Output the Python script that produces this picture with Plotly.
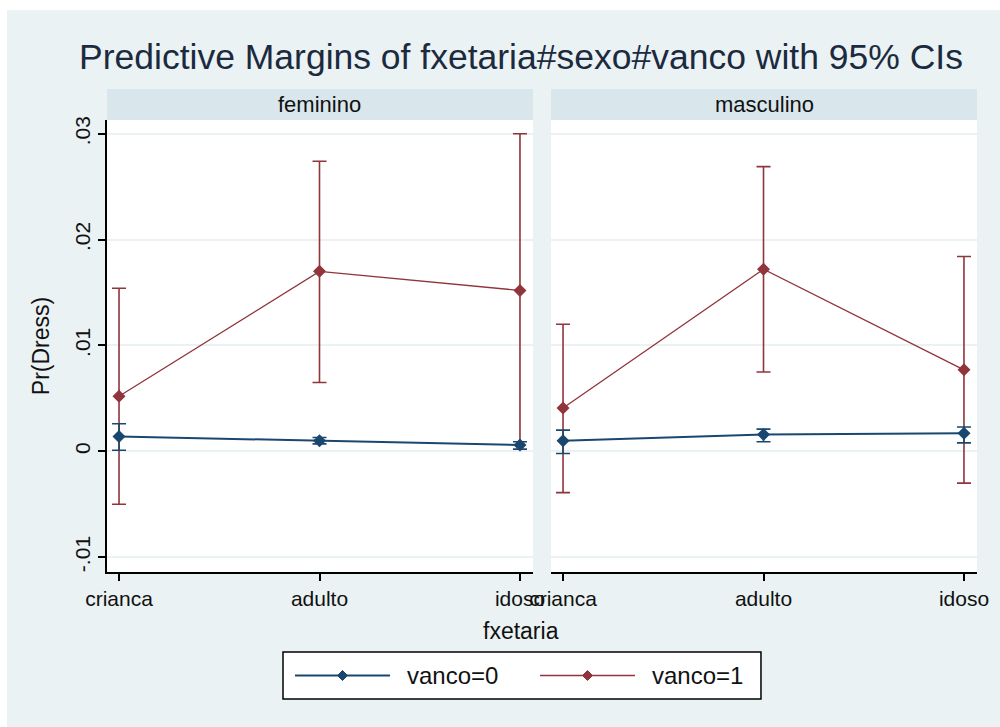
import plotly.graph_objects as go
from plotly.subplots import make_subplots

# Predictive margins by age group (fxetaria), split by sex, for vanco = 0 / 1
categories = ["crianca", "adulto", "idoso"]
panels = ["feminino", "masculino"]

fem_v0 = [0.0014, 0.0010, 0.0006]
fem_v0_lo = [0.0001, 0.0007, 0.0002]
fem_v0_hi = [0.0026, 0.0013, 0.0009]

fem_v1 = [0.0052, 0.0170, 0.0152]
fem_v1_lo = [-0.0050, 0.0065, 0.0002]
fem_v1_hi = [0.0154, 0.0274, 0.0300]

masc_v0 = [0.0010, 0.0016, 0.0017]
masc_v0_lo = [-0.0002, 0.0009, 0.0008]
masc_v0_hi = [0.0020, 0.0021, 0.0023]

masc_v1 = [0.0041, 0.0172, 0.0077]
masc_v1_lo = [-0.0039, 0.0075, -0.0030]
masc_v1_hi = [0.0120, 0.0269, 0.0184]

y_ticks = [-0.01, 0, 0.01, 0.02, 0.03]
y_ticklabels = ["-.01", "0", ".01", ".02", ".03"]

NAVY = "#1a476f"
MAROON = "#90353b"
BG = "#eaf2f3"
STRIP = "#d9e6eb"
GRID = "#eaf2f3"
TXT = "#111111"
FONT = "Arial"

fig = make_subplots(rows=1, cols=2, shared_yaxes=True, horizontal_spacing=0.0207)

xpos = list(range(len(categories)))

series = [
    (fem_v1, fem_v1_lo, fem_v1_hi, masc_v1, masc_v1_lo, masc_v1_hi, MAROON, 1.3, "vanco=1"),
    (fem_v0, fem_v0_lo, fem_v0_hi, masc_v0, masc_v0_lo, masc_v0_hi, NAVY, 2.0, "vanco=0"),
]

for f, flo, fhi, m, mlo, mhi, color, lw, name in series:
    for col, (vals, lo, hi) in enumerate([(f, flo, fhi), (m, mlo, mhi)], start=1):
        fig.add_trace(
            go.Scatter(
                x=xpos,
                y=vals,
                mode="lines+markers",
                name=name,
                showlegend=False,
                line=dict(color=color, width=lw),
                marker=dict(symbol="diamond", size=10, color=color),
                error_y=dict(
                    type="data",
                    symmetric=False,
                    array=[h - v for h, v in zip(hi, vals)],
                    arrayminus=[v - l for v, l in zip(vals, lo)],
                    color=color,
                    thickness=1.6,
                    width=7,
                ),
            ),
            row=1,
            col=col,
        )

for col in (1, 2):
    fig.update_xaxes(
        row=1, col=col,
        range=[-0.06, 2.065],
        tickvals=xpos,
        ticktext=categories,
        ticks="outside", ticklen=7, tickcolor="black", tickwidth=1.5,
        showline=True, linecolor="black", linewidth=1.5,
        showgrid=False, zeroline=False,
        tickfont=dict(family=FONT, size=21, color=TXT),
    )
fig.update_yaxes(
    row=1, col=1,
    range=[-0.0114, 0.0313],
    tickvals=y_ticks, ticktext=y_ticklabels,
    tickangle=-90,
    ticks="outside", ticklen=7, tickcolor="black", tickwidth=1.5,
    showline=True, linecolor="black", linewidth=1.5,
    showgrid=True, gridcolor=GRID, gridwidth=1.5,
    zeroline=False,
    tickfont=dict(family=FONT, size=21, color=TXT),
    title=dict(text="Pr(Dress)", font=dict(family=FONT, size=23, color=TXT), standoff=15),
)
fig.update_yaxes(
    row=1, col=2,
    range=[-0.0114, 0.0313],
    tickvals=y_ticks,
    showticklabels=False, ticks="",
    showline=False,
    showgrid=True, gridcolor=GRID, gridwidth=1.5,
    zeroline=False,
)

shapes = [
    # thin white border on the top and left of the canvas
    dict(type="rect", xref="paper", yref="paper", x0=-0.2, x1=1.1, y0=1.243, y1=1.4,
         fillcolor="white", line=dict(width=0), layer="below"),
    dict(type="rect", xref="paper", yref="paper", x0=-0.2, x1=-0.1149, y0=-0.4, y1=1.4,
         fillcolor="white", line=dict(width=0), layer="below"),
]
annotations = []
dom1 = fig.layout.xaxis.domain
dom2 = fig.layout.xaxis2.domain
for dom, label in [(dom1, panels[0]), (dom2, panels[1])]:
    shapes.append(dict(type="rect", xref="paper", yref="paper",
                       x0=dom[0], x1=dom[1], y0=1.0, y1=1.0686,
                       fillcolor=STRIP, line=dict(width=0)))
    annotations.append(dict(text=label, xref="paper", yref="paper",
                            x=(dom[0] + dom[1]) / 2, y=1.034, showarrow=False,
                            xanchor="center", yanchor="middle",
                            font=dict(family=FONT, size=22, color=TXT)))

annotations.append(dict(text="fxetaria", xref="paper", yref="paper",
                        x=0.4759, y=-0.131, showarrow=False,
                        xanchor="center", yanchor="middle",
                        font=dict(family=FONT, size=23, color=TXT)))

# Legend key: framed box with a long line sample and diamond for each series
legend_box = dict(x0=0.2023, x1=0.7517, y0=-0.281, y1=-0.177)
legend_y = -0.229
legend_items = [
    ("vanco=0", NAVY, 2.0, 0.2161, 0.3253, 0.2707, 0.3425),
    ("vanco=1", MAROON, 1.3, 0.4977, 0.6069, 0.5523, 0.6241),
]
shapes.append(dict(type="rect", xref="paper", yref="paper", fillcolor="white",
                   line=dict(color="black", width=1.5), **legend_box))
for label, color, lw, lx0, lx1, mx, tx in legend_items:
    shapes.append(dict(type="line", xref="paper", yref="paper",
                       x0=lx0, x1=lx1, y0=legend_y, y1=legend_y,
                       line=dict(color=color, width=lw)))
    shapes.append(dict(type="path", xref="paper", yref="paper",
                       xsizemode="pixel", ysizemode="pixel",
                       xanchor=mx, yanchor=legend_y,
                       path="M -5 0 L 0 5 L 5 0 L 0 -5 Z",
                       fillcolor=color, line=dict(color=color, width=1)))
    annotations.append(dict(text=label, xref="paper", yref="paper",
                            x=tx, y=legend_y, showarrow=False,
                            xanchor="left", yanchor="middle",
                            font=dict(family=FONT, size=24, color=TXT)))

fig.update_layout(
    width=1000, height=727,
    margin=dict(l=107, r=23, t=120, b=155),
    paper_bgcolor=BG,
    plot_bgcolor="white",
    title=dict(text="Predictive Margins of fxetaria#sexo#vanco with 95% CIs",
               x=0.521, xanchor="center", y=0.922, yanchor="middle",
               font=dict(family=FONT, size=35.5, color="#1c2a40")),
    shapes=shapes,
    annotations=annotations,
    showlegend=False,
)

fig.write_html("out.html")
